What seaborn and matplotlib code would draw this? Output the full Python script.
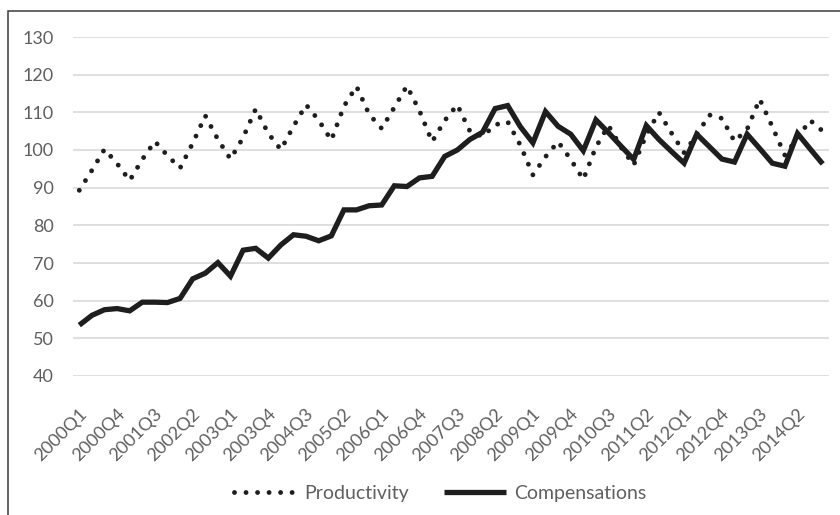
import matplotlib
matplotlib.use("Agg")
import matplotlib.pyplot as plt
from matplotlib.patches import Rectangle
from matplotlib.transforms import ScaledTranslation
import seaborn as sns
import pandas as pd

# Quarterly index values, 2000Q1 .. 2014Q4
years = list(range(2000, 2015))
quarters = [f"{y}Q{q}" for y in years for q in range(1, 5)]

productivity = [
    89.3, 94.6, 100.2, 96.4, 91.9, 97.5, 102.3, 98.5, 95.2, 101.8,
    109.1, 102.8, 97.6, 103.3, 110.9, 104.4, 100.1, 106.3, 112.0, 107.9,
    102.6, 111.6, 116.9, 109.5, 105.7, 111.3, 117.0, 110.4, 102.2, 107.8,
    112.0, 105.0, 103.6, 106.7, 107.5, 101.3, 93.4, 98.2, 102.2, 97.5,
    92.2, 100.8, 106.5, 100.7, 96.0, 104.0, 110.0, 104.5, 99.3, 104.0,
    109.3, 108.4, 102.3, 105.5, 113.5, 106.2, 98.6, 103.2, 107.9, 105.0,
]
compensations = [
    53.5, 56.1, 57.6, 57.9, 57.3, 59.6, 59.6, 59.5, 60.6, 65.8,
    67.3, 70.1, 66.5, 73.4, 73.9, 71.3, 74.8, 77.5, 77.1, 75.9,
    77.2, 84.1, 84.1, 85.2, 85.4, 90.5, 90.3, 92.6, 93.0, 98.3,
    100.0, 102.8, 104.7, 111.0, 111.8, 106.2, 101.9, 110.2, 106.3, 104.2,
    99.8, 108.0, 104.6, 101.0, 97.5, 106.5, 102.8, 99.6, 96.5, 104.2,
    100.9, 97.6, 96.8, 104.2, 100.4, 96.5, 95.7, 104.4, 100.3, 96.3,
]
y_ticks = [40, 50, 60, 70, 80, 90, 100, 110, 120, 130]
label_step = 3

df = pd.DataFrame({"quarter": quarters,
                   "Productivity": productivity,
                   "Compensations": compensations})

sns.set_theme(style="white")
plt.rcParams["font.family"] = ["Lato", "DejaVu Sans"]

ink = "#1e1e1e"
text_grey = "#5f5f5f"
grid_grey = "#d9d9d9"

fig = plt.figure(figsize=(8.4, 5.15), dpi=100)
ax = fig.add_axes([73 / 840, 1 - 376 / 515, 756 / 840, 339 / 515])

sns.lineplot(data=df, x="quarter", y="Productivity", ax=ax, color=ink,
             linewidth=3.5, linestyle=(0, (0.001, 2.37)),
             dash_capstyle="round", errorbar=None, sort=False,
             label="Productivity")
sns.lineplot(data=df, x="quarter", y="Compensations", ax=ax, color=ink,
             linewidth=3.8, solid_joinstyle="miter", solid_capstyle="butt",
             errorbar=None, sort=False, label="Compensations")

ax.set_xlim(-0.5, len(quarters) - 0.5)
ax.set_ylim(y_ticks[0], y_ticks[-1])
ax.set_yticks(y_ticks)
ax.set_yticklabels([str(v) for v in y_ticks])
ax.set_xticks(range(0, len(quarters), label_step))
ax.set_xticklabels(quarters[::label_step])
ax.set_xlabel("")
ax.set_ylabel("")

ax.grid(axis="y", color=grid_grey, linewidth=1.2)
ax.grid(axis="x", visible=False)
ax.set_axisbelow(True)
for s in ax.spines.values():
    s.set_visible(False)

ax.tick_params(axis="y", length=0, pad=14, labelsize=13, labelcolor=text_grey)
ax.tick_params(axis="x", length=0, pad=0, labelsize=13, labelcolor=text_grey)

shift = ScaledTranslation(5 / 100, -35 / 100, fig.dpi_scale_trans)
for lbl in ax.get_xticklabels():
    lbl.set_rotation(45)
    lbl.set_rotation_mode("anchor")
    lbl.set_ha("right")
    lbl.set_va("center")
    lbl.set_transform(lbl.get_transform() + shift)

handles, labels = ax.get_legend_handles_labels()
ax.get_legend().remove()
leg = fig.legend(handles, labels, loc="center", ncol=2, frameon=False,
                 bbox_to_anchor=(440 / 840, 1 - 493 / 515),
                 fontsize=14, handlelength=3.2, handletextpad=0.4,
                 columnspacing=1.8, labelcolor=text_grey)

# chart-area border (open on the right and bottom)
fig.add_artist(Rectangle((8 / 840, -0.2), 1.5, 1.2 - 11 / 515,
                         transform=fig.transFigure, fill=False,
                         edgecolor="#3a3a3a", linewidth=1.1))

fig.savefig("out.png", dpi=100)
